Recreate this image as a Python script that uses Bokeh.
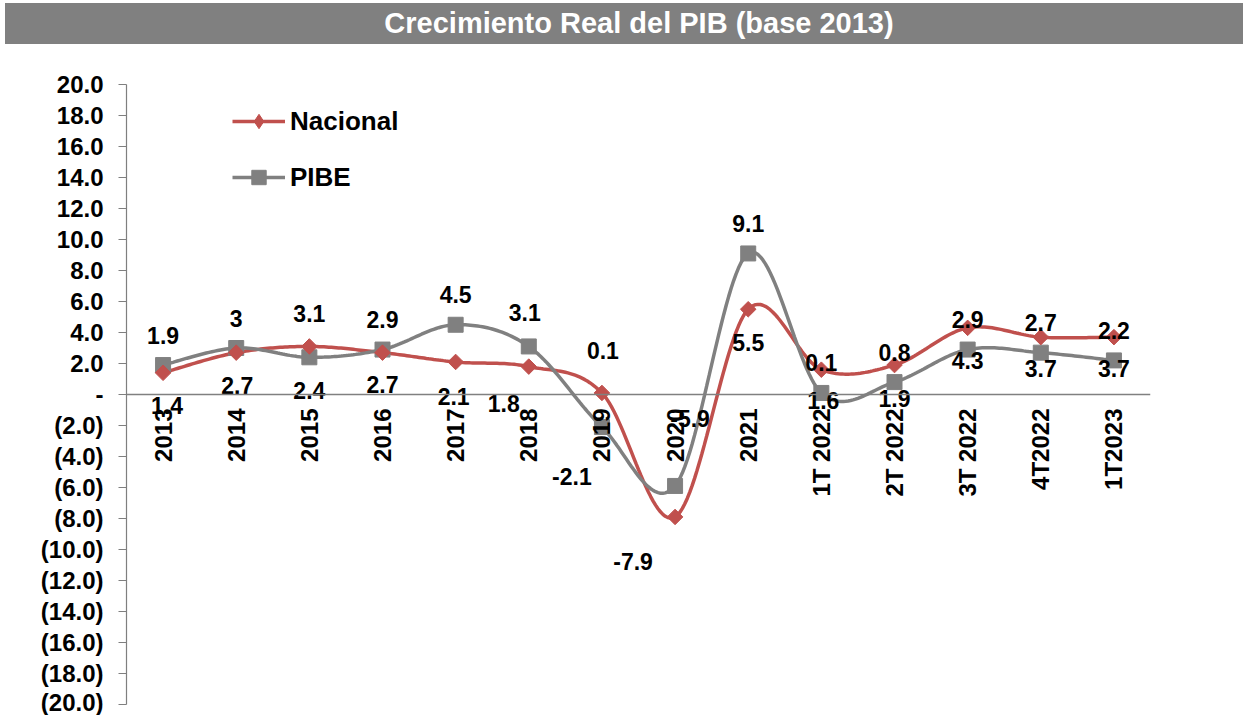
import numpy as np
from bokeh.plotting import figure
from bokeh.models import ColumnDataSource, FixedTicker, Span, Legend, LegendItem, Range1d, Div
from bokeh.layouts import column
from bokeh.embed import file_html
from bokeh.resources import INLINE
from bokeh.core.properties import value

# ---------------- data ----------------
title_text = "Crecimiento Real del PIB (base 2013)"
categories = ["2013", "2014", "2015", "2016", "2017", "2018", "2019", "2020", "2021",
              "1T 2022", "2T 2022", "3T 2022", "4T2022", "1T2023"]
nacional = [1.4, 2.7, 3.1, 2.7, 2.1, 1.8, 0.1, -7.9, 5.5, 1.6, 1.9, 4.3, 3.7, 3.7]
pibe = [1.9, 3.0, 2.4, 2.9, 4.5, 3.1, -2.1, -5.9, 9.1, 0.1, 0.8, 2.9, 2.7, 2.2]
nacional_labels = ["1.4", "2.7", "3.1", "2.7", "2.1", "1.8", "0.1", "-7.9", "5.5",
                   "0.1", "0.8", "2.9", "2.7", "2.2"]
pibe_labels = ["1.9", "3", "2.4", "2.9", "4.5", "3.1", "-2.1", "-5.9", "9.1",
               "1.6", "1.9", "4.3", "3.7", "3.7"]
y_ticks = list(range(-20, 21, 2))

# label placement in screen pixels (negative dy = above the marker)
nac_dx = [4, 1, 0, 0, -2, -25, 1, -42, 0, 0, 0, 0, 0, 0]
nac_dy = [33, 33, -33, 32, 35, 37, -42, 45, 33, -7, -13, -8, -15, -7]
pibe_dx = [0, 0, 0, 0, 0, -4, -30, 15, 0, 2, 0, 0, 0, 0]
pibe_dy = [-30, -30, 33, -30, -30, -34, 49, -67, -30, 8, 16, 11, 16, 8]

RED = "#C0504D"
GRAY = "#808080"
FONT = value("Liberation Sans")

xc = [i + 0.5 for i in range(len(categories))]


def smooth(xs, ys, n=30):
    xs = np.asarray(xs, float)
    ys = np.asarray(ys, float)
    N = len(xs)
    outx, outy = [], []
    for i in range(N - 1):
        a = i - 1 if i > 0 else i
        d = i + 2 if i + 2 < N else i + 1
        c1x = xs[i] + (xs[i + 1] - xs[a]) / 6.0
        c1y = ys[i] + (ys[i + 1] - ys[a]) / 6.0
        c2x = xs[i + 1] - (xs[d] - xs[i]) / 6.0
        c2y = ys[i + 1] - (ys[d] - ys[i]) / 6.0
        t = np.linspace(0, 1, n, endpoint=(i == N - 2))
        b0 = (1 - t) ** 3
        b1 = 3 * (1 - t) ** 2 * t
        b2 = 3 * (1 - t) * t ** 2
        b3 = t ** 3
        outx.extend(b0 * xs[i] + b1 * c1x + b2 * c2x + b3 * xs[i + 1])
        outy.extend(b0 * ys[i] + b1 * c1y + b2 * c2y + b3 * ys[i + 1])
    return outx, outy


# ---------------- title bar ----------------
title = Div(text=title_text, width=1238, height=41, margin=(3, 0, 0, 5),
            styles={"background-color": GRAY, "color": "white",
                    "font-family": "'Liberation Sans', Arial, sans-serif",
                    "font-weight": "bold", "font-size": "29px",
                    "text-align": "center", "line-height": "41px",
                    "text-indent": "30px", "display": "block"})

# ---------------- main chart ----------------
p = figure(width=1240, height=671, x_range=Range1d(0, len(categories)), y_range=Range1d(-20, 20),
           output_backend="svg", toolbar_location=None, x_axis_location=None,
           min_border_left=126, min_border_right=90, min_border_top=40, min_border_bottom=11,
           background_fill_color="white", border_fill_color="white", outline_line_color=None)
p.grid.visible = False

ax = p.yaxis[0]
ax.ticker = FixedTicker(ticks=y_ticks)
overrides = {}
for v in y_ticks:
    if v == 0:
        overrides[v] = "-"
    elif v < 0:
        overrides[v] = "(%.1f)" % abs(v)
    else:
        overrides[v] = "%.1f" % v
ax.major_label_overrides = overrides
ax.bounds = (-20, 20)
ax.axis_line_color = "#7f7f7f"
ax.axis_line_width = 1.2
ax.major_tick_line_color = "#7f7f7f"
ax.major_tick_out = 8
ax.major_tick_in = 0
ax.minor_tick_line_color = None
ax.major_label_text_font = "Liberation Sans"
ax.major_label_text_font_style = "bold"
ax.major_label_text_font_size = "24px"
ax.major_label_text_color = "black"
ax.major_label_standoff = 15

p.add_layout(Span(location=0, dimension="width", line_color=GRAY, line_width=1.5))

nx, ny = smooth(xc, nacional)
gx, gy = smooth(xc, pibe)

ln = p.line(nx, ny, line_color=RED, line_width=3.5)
lg = p.line(gx, gy, line_color=GRAY, line_width=3.5)
mg = p.scatter(xc, pibe, marker="square", size=15, fill_color=GRAY, line_color=GRAY)
# diamond swatch used by the legend (legend does not rotate markers); hidden under the markers
mn_leg = p.scatter(xc, nacional, marker="diamond", size=1, fill_color=RED, line_color=RED)
mn = p.scatter(xc, nacional, marker="square", angle=np.pi / 4, size=11,
               fill_color=RED, line_color=RED)

src_n = ColumnDataSource(dict(x=xc, y=nacional, t=nacional_labels, dx=nac_dx, dy=nac_dy))
src_g = ColumnDataSource(dict(x=xc, y=pibe, t=pibe_labels, dx=pibe_dx, dy=pibe_dy))
for src in (src_n, src_g):
    p.text(x="x", y="y", text="t", x_offset="dx", y_offset="dy", source=src,
           text_align="center", text_baseline="middle", text_color="black",
           text_font=FONT, text_font_style="bold", text_font_size="23px")

# category labels along the zero line
p.text(x=xc, y=[0] * len(categories), text=categories, angle=np.pi / 2,
       text_align="right", text_baseline="middle", y_offset=14, text_color="black",
       text_font=FONT, text_font_style="bold", text_font_size="24px")

legend = Legend(items=[LegendItem(label="Nacional", renderers=[ln, mn_leg]),
                       LegendItem(label="PIBE", renderers=[lg, mg])],
                location=(106, 509), orientation="vertical",
                label_text_font="Liberation Sans", label_text_font_style="bold",
                label_text_font_size="26px", label_text_color="black",
                glyph_width=53, glyph_height=36, label_height=36, spacing=20,
                padding=0, margin=0, label_standoff=5,
                border_line_color=None, background_fill_alpha=0)
p.add_layout(legend)

layout = column(title, p, spacing=0)
open("out.html", "w").write(file_html(layout, INLINE))
